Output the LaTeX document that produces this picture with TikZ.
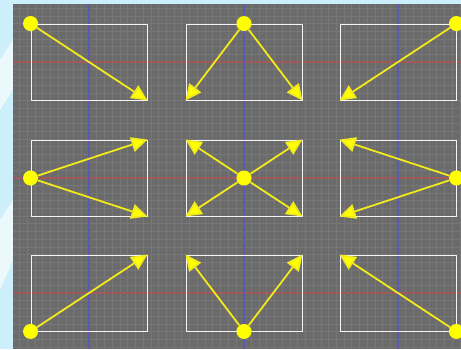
\documentclass[tikz,border=0pt]{standalone}
\usetikzlibrary{arrows.meta}
\definecolor{skyblue}{HTML}{CDEFFB}
\definecolor{panelgray}{HTML}{6B6B6B}
\definecolor{gridgray}{HTML}{777777}
\definecolor{axisred}{HTML}{A05A5A}
\definecolor{axisblue}{HTML}{5A5AB0}
\definecolor{dotyellow}{HTML}{FFFF00}
\definecolor{lineyellow}{HTML}{F2EA1A}
\tikzset{
  framebox/.style={draw=white!92!gray, line width=0.9pt, minimum width=116pt, minimum height=76pt, inner sep=0pt, fill=none},
  dot/.style={circle, fill=dotyellow, draw=none, minimum size=15pt, inner sep=0pt},
  arr/.style={draw=lineyellow, line width=1.8pt, -{Triangle[length=16pt,width=15pt,fill=dotyellow]}},
  gridline/.style={draw=gridgray, line width=0.5pt},
  redaxis/.style={draw=axisred, line width=1.2pt},
  blueaxis/.style={draw=axisblue, line width=1.2pt},
}
\begin{document}
\begin{tikzpicture}[x=1pt,y=-1pt]
\useasboundingbox (0,0) rectangle (461,349);
% background
\fill[skyblue] (0,0) rectangle (461,349);
\fill[white!60!skyblue] (0,60) -- (13,40) -- (13,90) -- (0,110) -- cycle;
\fill[white!60!skyblue] (0,220) -- (13,200) -- (13,260) -- (0,290) -- cycle;
\fill[panelgray] (13,4) rectangle (461,349);
\begin{scope}
\clip (13,4) rectangle (461,349);
\foreach \i in {-11,...,48} {
  \draw[gridline] ({89+\i*7.725},4) -- ({89+\i*7.725},349);
}
\foreach \j in {-8,...,37} {
  \draw[gridline] (13,{62+\j*7.7}) -- (461,{62+\j*7.7});
}
\end{scope}
\coordinate (r1w) at (13,62);   \coordinate (r1e) at (461,62);
\coordinate (r2w) at (13,178);  \coordinate (r2e) at (461,178);
\coordinate (r3w) at (13,293);  \coordinate (r3e) at (461,293);
\coordinate (c1n) at (89,4);    \coordinate (c1s) at (89,349);
\coordinate (c2n) at (244,4);   \coordinate (c2s) at (244,349);
\coordinate (c3n) at (398,4);   \coordinate (c3s) at (398,349);
\draw[redaxis] (r1w) -- (r1e);
\draw[redaxis] (r2w) -- (r2e);
\draw[redaxis] (r3w) -- (r3e);
\draw[blueaxis] (c1n) -- (c1s);
\draw[blueaxis] (c2n) -- (c2s);
\draw[blueaxis] (c3n) -- (c3s);
% boxes
\node[framebox] (b11) at (89,62) {};
\node[framebox] (b12) at (244,62) {};
\node[framebox] (b13) at (398,62) {};
\node[framebox] (b21) at (89,178) {};
\node[framebox] (b22) at (244,178) {};
\node[framebox] (b23) at (398,178) {};
\node[framebox] (b31) at (89,293) {};
\node[framebox] (b32) at (244,293) {};
\node[framebox] (b33) at (398,293) {};
% dots
\node[dot] (d11) at (b11.north west) {};
\node[dot] (d12) at (b12.north) {};
\node[dot] (d13) at (b13.north east) {};
\node[dot] (d21) at (b21.west) {};
\node[dot] (d22) at (b22.center) {};
\node[dot] (d23) at (b23.east) {};
\node[dot] (d31) at (b31.south west) {};
\node[dot] (d32) at (b32.south) {};
\node[dot] (d33) at (b33.south east) {};
% arrows
\draw[arr] (d11) -- (b11.south east);
\draw[arr] (d12) -- (b12.south west);
\draw[arr] (d12) -- (b12.south east);
\draw[arr] (d13) -- (b13.south west);
\draw[arr] (d21) -- (b21.north east);
\draw[arr] (d21) -- (b21.south east);
\draw[arr] (d22) -- (b22.north west);
\draw[arr] (d22) -- (b22.north east);
\draw[arr] (d22) -- (b22.south west);
\draw[arr] (d22) -- (b22.south east);
\draw[arr] (d23) -- (b23.north west);
\draw[arr] (d23) -- (b23.south west);
\draw[arr] (d31) -- (b31.north east);
\draw[arr] (d32) -- (b32.north west);
\draw[arr] (d32) -- (b32.north east);
\draw[arr] (d33) -- (b33.north west);
\end{tikzpicture}
\end{document}
